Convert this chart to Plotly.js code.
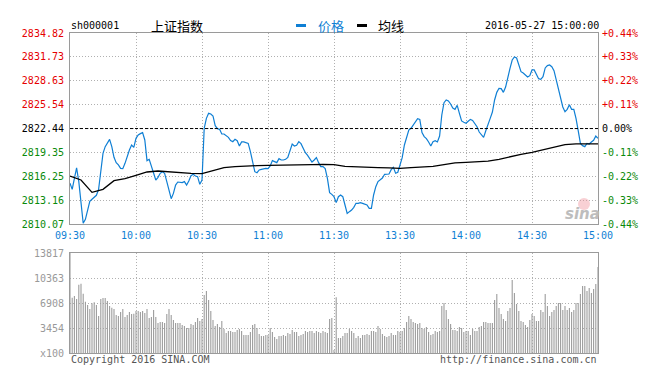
<!DOCTYPE html>
<html><head><meta charset="utf-8">
<script src="https://cdn.plot.ly/plotly-3.0.1.min.js"></script>
<style>html,body{margin:0;padding:0;background:#fff;}#chart{width:668px;height:376px;}</style>
</head><body><div id="chart"></div>
<script>
// ---- data ----
const preClose = 2822.44;
const priceTicks = [2810.07, 2813.16, 2816.25, 2819.35, 2822.44, 2825.54, 2828.63, 2831.73, 2834.82];
const pctTicks = ['-0.44%','-0.33%','-0.22%','-0.11%','0.00%','+0.11%','+0.22%','+0.33%','+0.44%'];
const volTicks = [0, 3454, 6908, 10363, 13817];
const volTickText = ['x100', '3454', '6908', '10363', '13817'];
const timeTicks = ['09:30','10:00','10:30','11:00','11:30','13:30','14:00','14:30','15:00'];

const price = [
2815.34,2814.56,2815.99,2817.33,2815.56,2812.75,2810.16,2810.68,2811.97,2813.01,
2813.27,2813.48,2813.79,2814.56,2817.28,2819.23,2820.09,2820.52,2821.04,2820.09,
2818.71,2818.02,2817.72,2817.28,2817.24,2817.93,2818.97,2819.66,2820.31,2820.01,
2821.17,2821.60,2821.78,2821.91,2820.96,2818.28,2818.45,2817.50,2816.77,2815.77,
2816.12,2816.64,2816.85,2816.64,2815.56,2814.48,2813.35,2814.04,2815.12,2815.51,
2815.43,2815.43,2815.56,2815.12,2815.64,2816.33,2816.51,2816.29,2816.20,2815.21,
2815.77,2822.47,2823.76,2824.41,2824.32,2824.07,2822.81,2822.42,2822.34,2821.73,
2821.73,2821.56,2821.30,2820.87,2820.74,2821.04,2820.87,2820.18,2820.70,2820.70,
2820.61,2820.52,2819.44,2818.02,2816.85,2816.72,2817.07,2817.15,2817.24,2817.28,
2817.24,2817.59,2818.28,2818.19,2818.02,2818.54,2818.36,2818.36,2818.45,2818.71,
2819.75,2820.44,2820.18,2820.26,2820.74,2820.48,2819.88,2819.31,2818.97,2818.58,
2818.10,2818.36,2818.67,2818.02,2817.50,2817.50,2817.24,2815.99,2814.13,2813.91,
2813.61,2812.84,2813.61,2813.83,2813.61,2812.53,2811.45,2811.67,2811.88,2812.23,
2812.75,2812.75,2812.84,2812.75,2812.66,2812.53,2812.10,2812.10,2813.83,2814.91,
2815.56,2815.77,2816.03,2816.51,2816.55,2816.55,2817.11,2817.41,2816.64,2816.77,
2817.72,2818.67,2820.31,2821.47,2822.25,2822.47,2822.90,2823.38,2823.72,2823.63,
2821.91,2821.39,2821.13,2820.70,2820.18,2820.74,2820.87,2820.70,2821.47,2824.20,
2825.79,2826.14,2826.01,2825.62,2825.10,2824.93,2825.45,2824.41,2823.42,2823.25,
2823.12,2823.38,2823.63,2823.50,2823.16,2822.68,2821.99,2821.69,2821.30,2822.16,
2823.12,2823.76,2824.58,2826.14,2827.13,2827.65,2827.61,2827.13,2827.82,2828.86,
2830.24,2831.32,2831.71,2831.58,2830.76,2829.81,2829.64,2829.34,2829.12,2829.29,
2830.03,2830.03,2829.42,2828.90,2828.82,2829.16,2830.29,2830.59,2830.67,2830.46,
2829.94,2828.82,2827.39,2826.36,2825.23,2824.63,2824.93,2825.53,2824.93,2824.93,
2823.76,2822.16,2820.52,2820.22,2820.09,2820.52,2820.44,2820.70,2820.91,2821.47,2821.17
];

const avgTimes = ['09:30','09:35','09:40','09:45','09:50','09:55','10:00','10:05','10:10','10:15','10:20','10:25','10:30','10:35','10:40','10:45','10:50','10:55','11:00','11:05','11:10','11:15','11:20','11:25','11:30',
'13:05','13:10','13:15','13:20','13:25','13:30','13:35','13:40','13:45','13:50','13:55','14:00','14:05','14:10','14:15','14:20','14:25','14:30','14:35','14:40','14:45','14:50','14:55','15:00'];
const avgPrice = [2816.29,2815.77,2814.17,2814.56,2815.69,2815.94,2816.38,2816.81,2816.94,2816.81,2816.68,2816.64,2816.59,2817.02,2817.37,2817.50,2817.59,2817.63,2817.67,2817.67,2817.67,2817.72,2817.76,2817.80,2817.76,
2817.54,2817.46,2817.41,2817.37,2817.33,2817.28,2817.37,2817.46,2817.54,2817.76,2817.98,2818.06,2818.15,2818.23,2818.45,2818.80,2819.10,2819.36,2819.66,2820.01,2820.35,2820.44,2820.44,2820.44];

const volume = [
13817,
7646,7876,7462,9442,9580,8199,7093,6633,6080,6863,7001,6633,5113,7462,7600,7600,7185,6494,6264,6080,5251,5113,5665,6080,4974,5251,5665,5389,5435,5804,
5804,5665,5804,5527,6080,4836,4974,5942,4974,4145,4284,4284,4145,5389,6080,5251,4560,4145,4145,4145,3869,3731,3455,3455,4007,3869,4284,4836,4422,4698,
8014,8567,7324,5804,4560,3731,4007,3593,4422,3316,2764,3040,3040,2902,2902,3178,3316,3040,2487,2487,2487,2902,3869,4007,3455,2625,2349,2349,2487,2487,
3455,2902,2211,1935,2349,2349,2487,2349,2764,2625,3178,2902,2902,2349,2487,2625,3040,2902,3040,3040,2764,3040,2902,2764,3040,2902,2764,4698,4836,415,
7692,2073,2073,2349,2764,2764,3316,3040,2764,2073,2349,2073,2487,2487,2625,2487,3040,3040,2902,3731,3316,2625,2349,2211,2349,2764,2487,2487,3040,2902,
3040,3455,4284,5113,4698,4284,4145,4007,4145,3455,3316,3593,2902,2487,2625,3040,2902,3040,6494,6909,5942,4698,4007,3178,3178,3040,3593,3455,2902,3040,
3040,2487,3316,3040,3040,3593,3731,4284,4284,4145,4145,4145,7324,8153,6218,5389,4698,4422,5804,6218,10087,8291,6771,5804,4422,4284,3869,3593,4560,5389,
5113,4422,4422,5942,5665,8153,6494,5113,5665,5942,6494,6909,6909,5942,6494,5942,6218,5665,5942,6909,6909,8153,9258,9258,8567,8982,8291,8844,9534,11883
];

// ---- time categories ----
function fmt(m){const h=Math.floor(m/60),mm=m%60;return (h<10?'0':'')+h+':'+(mm<10?'0':'')+mm;}
const times=[];
for(let m=570;m<=690;m++) times.push(fmt(m));
for(let m=781;m<=900;m++) times.push(fmt(m));

// ---- styling ----
const BLUE='#0f7fd4', RED='#e60000', GREEN='#0a8a0a', GRID='#b0b0b0', BORDER='#9a9a9a';
const MONO='"DejaVu Sans Mono", monospace', CJK='"Noto Sans CJK SC", sans-serif';
function col(v){return v>preClose?RED:(v<preClose?GREEN:'#000');}
const leftText=priceTicks.map(v=>'<span style="color:'+col(v)+'">'+v.toFixed(2)+'</span>');
const rightText=pctTicks.map((t,i)=>'<span style="color:'+col(priceTicks[i])+'">'+t+'</span>');

const L=70,R=70,T=33,B=23,W=668,H=376,PW=W-L-R,PH=H-T-B;
const px=x=>(x-L)/PW, py=y=>(H-B-y)/PH;

const traces=[
 {type:'scatter',mode:'lines',x:times,y:price,xaxis:'x',yaxis:'y',line:{color:BLUE,width:1.2},hoverinfo:'skip'},
 {type:'scatter',mode:'lines',x:avgTimes,y:avgPrice,xaxis:'x',yaxis:'y',line:{color:'#000',width:1.3},hoverinfo:'skip'},
 {type:'scatter',mode:'lines',x:times,y:price,xaxis:'x',yaxis:'y2',line:{width:0},opacity:0,hoverinfo:'skip'},
 {type:'bar',x:times,y:volume,xaxis:'x2',yaxis:'y3',marker:{color:'#9c9c9c',line:{width:0}},hoverinfo:'skip'}
];

const gridCommon={showgrid:true,gridcolor:GRID,griddash:'1px,2px',gridwidth:1,zeroline:false,showline:true,linecolor:BORDER,linewidth:1,mirror:true,ticks:''};

const layout={
 width:W,height:H,margin:{l:L,r:R,t:T,b:B,pad:0},
 paper_bgcolor:'#fff',plot_bgcolor:'#fff',showlegend:false,hovermode:false,bargap:0.5,
 xaxis:Object.assign({},gridCommon,{domain:[0,1],anchor:'y',type:'category',categoryorder:'array',categoryarray:times,range:[0,240],
   tickmode:'array',tickvals:timeTicks,ticktext:timeTicks,tickfont:{family:MONO,size:10,color:BLUE},ticklabelstandoff:2}),
 yaxis:Object.assign({},gridCommon,{domain:[py(224),1],anchor:'x',range:[priceTicks[0],priceTicks[8]],tickmode:'array',tickvals:priceTicks,ticktext:leftText,
   tickfont:{family:MONO,size:10,color:'#000'},ticklabelstandoff:3}),
 yaxis2:{overlaying:'y',side:'right',anchor:'x',range:[priceTicks[0],priceTicks[8]],tickmode:'array',tickvals:priceTicks,ticktext:rightText,
   showgrid:false,zeroline:false,showline:false,ticks:'',tickfont:{family:MONO,size:10,color:'#000'},ticklabelstandoff:3},
 xaxis2:Object.assign({},gridCommon,{domain:[0,1],anchor:'y3',type:'category',categoryorder:'array',categoryarray:times,range:[0,240],
   tickmode:'array',tickvals:timeTicks,showticklabels:false}),
 yaxis3:Object.assign({},gridCommon,{domain:[0,py(253)],anchor:'x2',range:[0,volTicks[4]],tickmode:'array',tickvals:volTicks,ticktext:volTickText,
   tickfont:{family:MONO,size:10,color:'#999'},ticklabelstandoff:3}),
 shapes:[
  {type:'line',xref:'paper',x0:0,x1:1,yref:'y',y0:preClose,y1:preClose,line:{color:'#000',width:1,dash:'3px,2px'}},
  {type:'rect',xref:'paper',yref:'paper',x0:px(296),x1:px(306),y0:py(27),y1:py(24),fillcolor:BLUE,line:{width:0}},
  {type:'rect',xref:'paper',yref:'paper',x0:px(357),x1:px(367),y0:py(27),y1:py(24),fillcolor:'#000',line:{width:0}},
  {type:'circle',xref:'paper',yref:'paper',x0:px(578),x1:px(590),y0:py(210),y1:py(198),fillcolor:'rgba(240,150,160,0.45)',line:{width:0}}
 ],
 annotations:[
  {text:'sh000001',xref:'paper',yref:'paper',x:px(69),y:py(26),xanchor:'left',yanchor:'middle',showarrow:false,font:{family:MONO,size:10,color:'#000'}},
  {text:'上证指数',xref:'paper',yref:'paper',x:px(149),y:py(25),xanchor:'left',yanchor:'middle',showarrow:false,font:{family:CJK,size:13,color:'#000'}},
  {text:'价格',xref:'paper',yref:'paper',x:px(316),y:py(25),xanchor:'left',yanchor:'middle',showarrow:false,font:{family:CJK,size:13,color:BLUE}},
  {text:'均线',xref:'paper',yref:'paper',x:px(376),y:py(25),xanchor:'left',yanchor:'middle',showarrow:false,font:{family:CJK,size:13,color:'#000'}},
  {text:'2016-05-27 15:00:00',xref:'paper',yref:'paper',x:px(601),y:py(26),xanchor:'right',yanchor:'middle',showarrow:false,font:{family:MONO,size:10,color:'#000'}},
  {text:'Copyright 2016 SINA.COM',xref:'paper',yref:'paper',x:px(69),y:py(359),xanchor:'left',yanchor:'middle',showarrow:false,font:{family:MONO,size:10,color:'#555'}},
  {text:'http://finance.sina.com.cn',xref:'paper',yref:'paper',x:px(599),y:py(359),xanchor:'right',yanchor:'middle',showarrow:false,font:{family:MONO,size:10,color:'#555'}},
  {text:'<b><i>sina</i></b>',xref:'paper',yref:'paper',x:px(582),y:py(214),xanchor:'center',yanchor:'middle',showarrow:false,font:{family:'"DejaVu Sans", sans-serif',size:15,color:'#bdbdbd'}}
 ]
};

Plotly.newPlot('chart',traces,layout,{staticPlot:true,displayModeBar:false});
</script>
</body></html>
